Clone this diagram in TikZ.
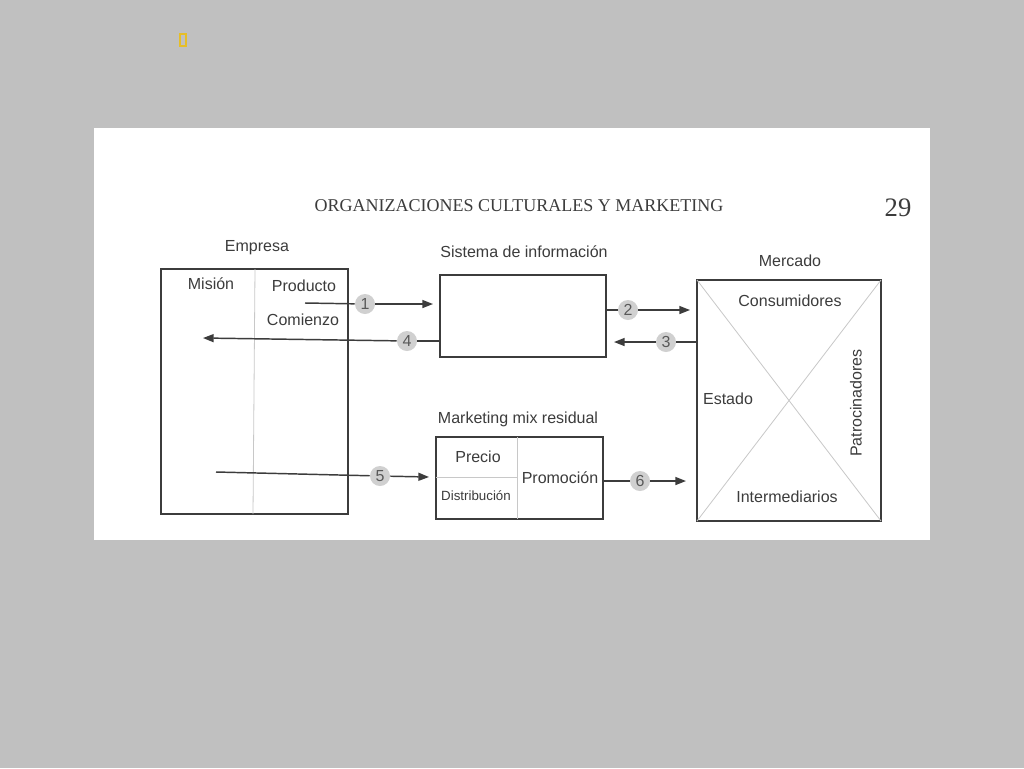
\documentclass[tikz,border=0pt]{standalone}
\usepackage{fontspec}
\setmainfont{Liberation Sans}
\newfontfamily\headfont{Liberation Serif}
\usetikzlibrary{calc,arrows.meta}
\definecolor{pagegray}{RGB}{192,192,192}
\definecolor{ink}{RGB}{60,60,60}
\definecolor{faint}{RGB}{200,200,200}
\definecolor{dotgray}{RGB}{208,208,208}
\tikzset{
  box/.style={draw=ink, line width=1.1pt},
  thin/.style={draw=faint, line width=0.6pt},
  lbl/.style={text=ink, font=\fontsize{12}{14}\selectfont, inner sep=0pt},
  num/.style={circle, fill=dotgray, text=ink!85, minimum size=15pt, inner sep=0pt, font=\fontsize{12}{13}\selectfont},
  arr/.style={draw=ink, line width=1.1pt, -{Triangle[length=8pt,width=6pt]}},
  ln/.style={draw=ink, line width=1.1pt}
}
\begin{document}
\begin{tikzpicture}[x=0.75pt, y=-0.75pt]
			%%%%% PAGE %%%%%
			\fill[pagegray] (0, 0) rectangle (1024, 768);
			\useasboundingbox (0, 0) rectangle (1024, 768);
			\fill[white] (94, 128) rectangle (930, 540);
			\draw[draw={rgb,255:red,230;green,190;blue,40}, line width=1pt] (180, 34) rectangle (186, 46);
			
			\node[text=ink, font=\headfont\fontsize{13.5}{15}\selectfont, inner sep=0pt] (head) at (519, 206) {ORGANIZACIONES CULTURALES Y MARKETING};
			\node[text=ink, font=\headfont\fontsize{20}{22}\selectfont, inner sep=0pt] (page) at (898, 208) {29};
			
			%%%%% EMPRESA %%%%%
			\draw[box] (161, 269) rectangle (348, 514);
			\draw[thin] (255, 269) -- (253, 514);
			\node[lbl] (empresa) at (257, 248) {Empresa};
			\node[lbl] (mision) at (211, 284) {Misión};
			\node[lbl] (producto) at (304, 286) {Producto};
			\node[lbl] (comienzo) at (303, 320) {Comienzo};
			
			%%%%% SISTEMA %%%%%
			\draw[box] (440, 275) rectangle (606, 357);
			\node[lbl] (sistema) at (524, 252) {Sistema de información};
			
			%%%%% MARKETING MIX %%%%%
			\draw[box] (436, 437) rectangle (603, 519);
			\draw[thin] (436, 477) -- (517, 477);
			\draw[thin] (517, 437) -- (517, 519);
			\node[lbl] (mix) at (518, 419) {Marketing mix residual};
			\node[lbl] (precio) at (478, 457) {Precio};
			\node[lbl, font=\fontsize{10}{12}\selectfont] (distrib) at (476, 496) {Distribución};
			\node[lbl] (promo) at (560, 478) {Promoción};
			
			%%%%% MERCADO %%%%%
			\draw[box] (697, 280) rectangle (881, 521);
			\draw[thin] (697, 280) -- (881, 521);
			\draw[thin] (881, 280) -- (697, 521);
			\node[lbl] (mercado) at (790, 261) {Mercado};
			\node[lbl] (consum) at (790, 301) {Consumidores};
			\node[lbl] (estado) at (728, 399) {Estado};
			\node[lbl] (interm) at (787, 497) {Intermediarios};
			\node[lbl, rotate=90] (patroc) at (856, 403) {Patrocinadores};
			
			%%%%% FLOWS %%%%%
			\coordinate (a1) at (305, 303);
			\coordinate (b1) at (433, 304);
			\node[num] (n1) at (365, 304) {1};
			\draw[ln] (a1) -- (n1);
			\draw[arr] (n1) -- (b1);
			
			\coordinate (a4) at (440, 341);
			\coordinate (b4) at (203, 338);
			\node[num] (n4) at (407, 341) {4};
			\draw[ln] (a4) -- (n4);
			\draw[arr] (n4) -- (b4);
			
			\coordinate (a2) at (606, 310);
			\coordinate (b2) at (690, 310);
			\node[num] (n2) at (628, 310) {2};
			\draw[ln] (a2) -- (n2);
			\draw[arr] (n2) -- (b2);
			
			\coordinate (a3) at (697, 342);
			\coordinate (b3) at (614, 342);
			\node[num] (n3) at (666, 342) {3};
			\draw[ln] (a3) -- (n3);
			\draw[arr] (n3) -- (b3);
			
			\coordinate (a5) at (216, 472);
			\coordinate (b5) at (429, 477);
			\node[num] (n5) at (380, 476) {5};
			\draw[ln] (a5) -- (n5);
			\draw[arr] (n5) -- (b5);
			
			\coordinate (a6) at (603, 481);
			\coordinate (b6) at (686, 481);
			\node[num] (n6) at (640, 481) {6};
			\draw[ln] (a6) -- (n6);
			\draw[arr] (n6) -- (b6);
			
			%%%%% END %%%%%
\end{tikzpicture}
\end{document}
